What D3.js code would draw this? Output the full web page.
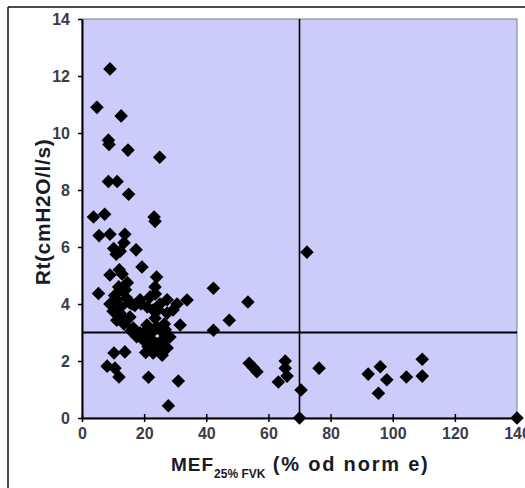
<!DOCTYPE html>
<html>
<head>
<meta charset="utf-8">
<script src="https://cdn.jsdelivr.net/npm/d3@7"></script>
<style>
  html, body { margin: 0; padding: 0; background: #ffffff; }
  svg { display: block; }
</style>
</head>
<body>
<div id="chart"></div>
<script>
// MEF25% FVK (% of norm) values
const mefValues = [
  9.0, 4.8, 12.6, 8.5, 8.7, 14.8, 25.0, 8.5, 11.3, 15.0, 3.7, 7.3, 23.2, 23.5,
  5.5, 9.0, 13.8, 13.5, 10.2, 12.3, 11.0, 17.4, 19.3,
  9.0, 12.9, 14.6, 5.3, 24.0, 23.5, 23.6,
  9.0, 11.2, 14.4, 18.7, 12.5, 16.0,
  12.2, 11.2, 15.4, 16.5, 18.7, 19.7, 21.3, 22.9, 25.1, 27.4, 28.3, 24.0, 20.9, 22.9, 25.1, 27.4, 29.3, 27.4, 21.9,
  31.6, 33.8, 30.6,
  20.0, 22.0, 23.5, 26.0, 25.5, 13.5, 10.5, 14.0, 12.0, 24.5, 26.5, 20.5,
  10.0, 13.0, 15.2, 17.0, 19.0, 21.0, 24.0, 23.0, 26.8, 15.8, 17.6, 13.2, 11.8, 22.5, 25.8,
  10.3, 13.8, 8.1, 10.6, 11.9, 21.4, 31.0, 27.8,
  42.3, 53.4, 47.4, 42.3, 72.4, 53.8, 55.1, 56.3, 65.4, 65.4, 66.0, 63.2, 70.5, 70.0, 76.3,
  92.1, 96.0, 98.1, 95.4, 104.4, 109.5, 109.5, 140.0
];
// Rt (cmH2O/l/s) values
const rtValues = [
  12.25, 10.9, 10.6, 9.75, 9.6, 9.4, 9.15, 8.3, 8.3, 7.85, 7.05, 7.15, 7.05, 6.9,
  6.4, 6.45, 6.45, 6.15, 5.95, 5.85, 5.75, 5.9, 5.3,
  5.02, 5.05, 4.75, 4.37, 4.95, 4.6, 4.35,
  4.0, 4.15, 4.2, 4.15, 3.9, 4.0,
  3.68, 3.43, 3.54, 3.16, 2.98, 2.74, 2.5, 2.28, 2.32, 2.46, 2.84, 3.2, 3.26, 3.79, 4.0, 4.15, 3.79, 3.68, 4.25,
  3.26, 4.14, 4.0,
  3.0, 2.8, 3.5, 3.0, 2.7, 3.3, 4.3, 4.5, 5.2, 3.8, 3.3, 2.3,
  3.75, 3.55, 4.05, 3.95, 4.0, 3.9, 2.6, 3.05, 3.1, 3.05, 2.85, 4.45, 4.6, 2.55, 2.2,
  2.28, 2.32, 1.82, 1.75, 1.44, 1.43, 1.3, 0.43,
  4.55, 4.07, 3.43, 3.08, 5.82, 1.92, 1.77, 1.62, 2.0, 1.75, 1.47, 1.26, 0.98, 0.0, 1.75,
  1.54, 1.8, 1.34, 0.87, 1.44, 2.06, 1.47, 0.0
];
const xTicks = [0, 20, 40, 60, 80, 100, 120, 140];
const yTicks = [0, 2, 4, 6, 8, 10, 12, 14];
const xDomain = [0, 140];
const yDomain = [0, 14];
const xCutoff = [70];
const yCutoff = [3];

const W = 525, H = 488;
const svg = d3.select("#chart").append("svg").attr("width", W).attr("height", H);

// outer frame (only top and left edges visible)
svg.append("line").attr("x1", 8).attr("y1", 7).attr("x2", W + 5).attr("y2", 7)
  .attr("stroke", "#111").attr("stroke-width", 1.5);
svg.append("line").attr("x1", 8).attr("y1", 7).attr("x2", 8).attr("y2", H + 5)
  .attr("stroke", "#111").attr("stroke-width", 1.5);

const x = d3.scaleLinear().domain(xDomain).range([82, 517]);
const y = d3.scaleLinear().domain(yDomain).range([418, 19]);

// plot background
svg.append("rect")
  .attr("x", x(xDomain[0])).attr("y", y(yDomain[1]))
  .attr("width", x(xDomain[1]) - x(xDomain[0]))
  .attr("height", y(yDomain[0]) - y(yDomain[1]))
  .attr("fill", "#ccccfb")
  .attr("stroke", "#7a7a8a").attr("stroke-width", 1);

// cutoff lines
svg.selectAll(".vcut").data(xCutoff).enter().append("line")
  .attr("x1", d => x(d)).attr("x2", d => x(d))
  .attr("y1", y(yDomain[0])).attr("y2", y(yDomain[1]))
  .attr("stroke", "#000").attr("stroke-width", 1.6);
svg.selectAll(".hcut").data(yCutoff).enter().append("line")
  .attr("x1", x(xDomain[0])).attr("x2", x(xDomain[1]))
  .attr("y1", d => y(d)).attr("y2", d => y(d))
  .attr("stroke", "#000").attr("stroke-width", 2);

// axes
const xAxis = d3.axisBottom(x).tickValues(xTicks).tickSize(4).tickSizeOuter(0).tickPadding(6);
const yAxis = d3.axisLeft(y).tickValues(yTicks).tickSize(4).tickSizeOuter(0).tickPadding(8);

const gx = svg.append("g").attr("transform", `translate(0,${y(0)})`).call(xAxis);
const gy = svg.append("g").attr("transform", `translate(${x(0)},0)`).call(yAxis);

[gx, gy].forEach(g => {
  g.select(".domain").attr("stroke", "#000").attr("stroke-width", 2);
  g.selectAll(".tick line").attr("stroke", "#000").attr("stroke-width", 1.5);
  g.selectAll(".tick text")
    .attr("font-family", "Liberation Sans, Arial, sans-serif")
    .attr("font-size", 16).attr("font-weight", "bold").attr("fill", "#3b3b4a");
});
gx.selectAll(".tick line").attr("y1", -4);
gy.selectAll(".tick line").attr("x2", -4);

// points
const pts = mefValues.map((v, i) => ({ mx: v, rt: rtValues[i] }));
const sym = d3.symbol().type(d3.symbolSquare).size(92);
svg.append("g").selectAll("path").data(pts).enter().append("path")
  .attr("d", sym)
  .attr("transform", d => `translate(${x(d.mx)},${y(d.rt)}) rotate(45)`)
  .attr("fill", "#000");

// y axis title
svg.append("text")
  .attr("transform", `translate(50,212) rotate(-90)`)
  .attr("text-anchor", "middle")
  .attr("font-family", "Liberation Sans, Arial, sans-serif")
  .attr("font-size", 21).attr("font-weight", "bold").attr("fill", "#1a1a26")
  .attr("letter-spacing", 0.6)
  .text("Rt(cmH2O/l/s)");

// x axis title
const xt = svg.append("text")
  .attr("x", 171).attr("y", 471)
  .attr("font-family", "Liberation Sans, Arial, sans-serif")
  .attr("font-weight", "bold").attr("fill", "#1a1a26");
xt.append("tspan").attr("font-size", 19).attr("letter-spacing", 1).text("MEF");
xt.append("tspan").attr("font-size", 12).attr("dy", 7).attr("letter-spacing", 0).text("25% FVK");
xt.append("tspan").attr("font-size", 20).attr("dy", -7).attr("letter-spacing", 1.8).text(" (% od norm e)");
</script>
</body>
</html>
